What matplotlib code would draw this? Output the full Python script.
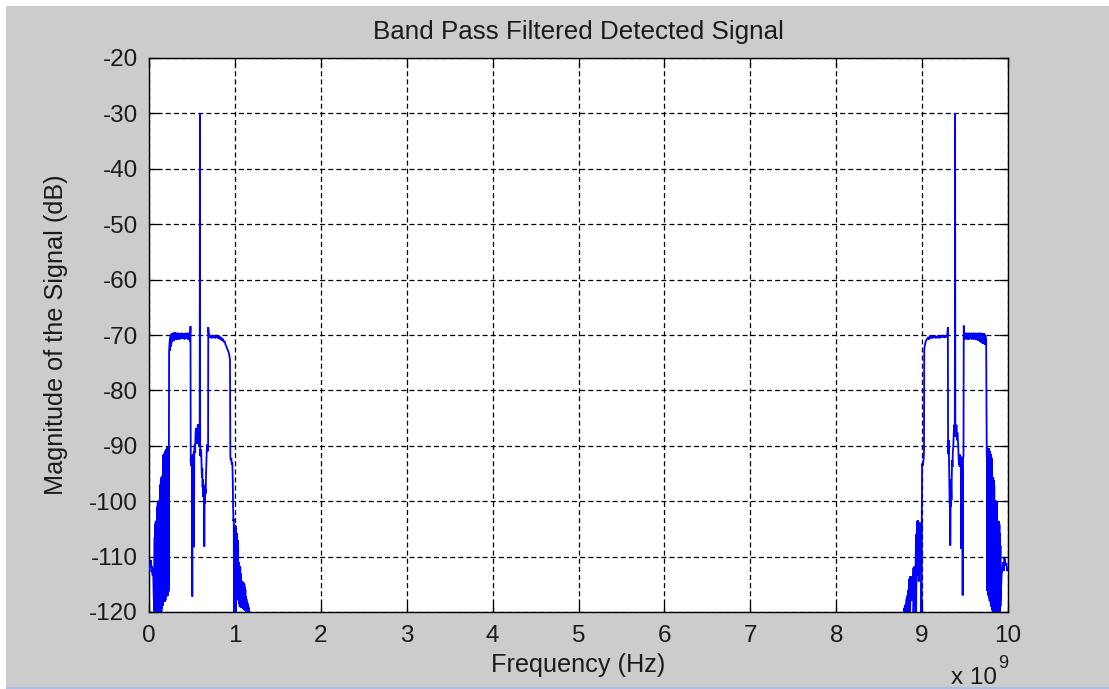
import matplotlib
matplotlib.use("Agg")
import matplotlib.pyplot as plt
from matplotlib.patches import Rectangle

plt.rcParams['font.family'] = ['Liberation Sans', 'DejaVu Sans']

# ---------------- data (frequency in GHz, i.e. units of 1e9 Hz; magnitude in dB) ----------------
title = "Band Pass Filtered Detected Signal"
x_label = "Frequency (Hz)"
y_label = "Magnitude of the Signal (dB)"
x_ticks = [0, 1, 2, 3, 4, 5, 6, 7, 8, 9, 10]
y_ticks = [-120, -110, -100, -90, -80, -70, -60, -50, -40, -30, -20]

# ---- lower band (around 0.6 GHz) ----
lo_edge_f = [0.000, 0.006, 0.012, 0.018, 0.024, 0.030, 0.036, 0.042, 0.048, 0.054, 0.060]
lo_edge_db = [-112.6, -111.4, -111.9, -110.6, -111.0, -112.8, -111.8, -113.4, -112.2, -116.5, -119.8]

lo_noise1_f = [0.066, 0.072, 0.078, 0.084, 0.090, 0.096, 0.102, 0.108, 0.114, 0.120, 0.126, 0.132,
               0.138, 0.144, 0.150, 0.156, 0.162, 0.168, 0.174, 0.180, 0.186, 0.192, 0.198, 0.204,
               0.210, 0.216, 0.222, 0.228]
lo_noise1_hi = [-106.5, -104.2, -103.6, -104.0, -103.4, -101.0, -100.2, -100.6, -99.9, -100.3, -99.6, -97.0,
                -96.2, -95.7, -96.0, -95.4, -92.3, -91.6, -91.9, -91.4, -91.0, -90.9, -90.6, -90.8,
                -90.3, -90.6, -90.5, -90.2]
lo_noise1_lo = [-120.0, -119.6, -120.0, -120.0, -119.2, -120.0, -120.0, -119.7, -120.0, -119.3, -120.0, -120.0,
                -118.8, -120.0, -119.4, -118.3, -118.9, -117.6, -118.2, -117.3, -118.1, -117.9, -116.6, -117.2,
                -116.2, -117.1, -115.6, -116.3]

lo_rise_f = [0.231, 0.234, 0.238]
lo_rise_db = [-90.0, -73.0, -71.8]

lo_ripple_f = [0.244, 0.252, 0.260, 0.268, 0.276, 0.284, 0.292, 0.300, 0.308, 0.316, 0.324, 0.332,
               0.340, 0.348, 0.356, 0.364, 0.372, 0.380, 0.388, 0.396, 0.404, 0.412, 0.420, 0.428,
               0.436, 0.444, 0.452, 0.460, 0.468, 0.476]
lo_ripple_hi = [-70.6, -70.0, -69.8, -69.7, -69.9, -69.6, -69.8, -69.5, -69.7, -69.6, -69.9, -69.7,
                -69.6, -69.8, -69.7, -69.9, -69.8, -69.6, -69.7, -69.8, -69.9, -69.7, -69.8, -69.6,
                -69.7, -69.8, -69.6, -69.7, -69.9, -69.5]
lo_ripple_lo = [-72.8, -72.1, -71.5, -71.2, -71.0, -70.9, -71.1, -70.8, -70.7, -70.9, -70.6, -70.8,
                -70.7, -70.6, -70.8, -70.7, -70.5, -70.6, -70.7, -70.5, -70.6, -70.8, -70.6, -70.7,
                -70.5, -70.6, -70.8, -70.7, -70.9, -71.2]

lo_mid_f = [0.480, 0.483, 0.486, 0.488, 0.492, 0.496, 0.500, 0.504, 0.507, 0.510, 0.514, 0.518, 0.522,
            0.524, 0.527, 0.532, 0.537, 0.542, 0.547, 0.552, 0.557, 0.562, 0.567, 0.572, 0.577, 0.582,
            0.586, 0.590, 0.593, 0.596, 0.600, 0.604, 0.608, 0.612, 0.616, 0.620, 0.624, 0.628, 0.632,
            0.636, 0.640, 0.644, 0.648, 0.652, 0.656, 0.660, 0.664, 0.668, 0.672, 0.676, 0.680, 0.684,
            0.688]
lo_mid_db = [-70.2, -68.4, -93.0, -91.8, -93.6, -92.0, -94.5, -117.2, -92.4, -93.2, -91.5, -92.6, -91.0,
             -108.3, -90.8, -89.8, -91.2, -87.6, -86.8, -88.5, -87.0, -89.6, -86.3, -86.1, -88.0, -90.2,
             -88.8, -89.5, -30.0, -91.8, -90.6, -92.0, -91.2, -93.5, -95.8, -94.0, -97.5, -96.0, -99.2,
             -97.0, -100.6, -108.2, -99.0, -100.4, -97.8, -98.6, -95.2, -93.0, -91.0, -90.2, -89.7, -91.0,
             -90.4]

lo_pass2_f = [0.690, 0.694, 0.700, 0.710, 0.720, 0.730, 0.740, 0.750, 0.760, 0.770, 0.780, 0.790,
              0.800, 0.810, 0.820, 0.830, 0.840, 0.850, 0.860, 0.870, 0.880, 0.890, 0.900, 0.910,
              0.920, 0.930, 0.937, 0.943, 0.947]
lo_pass2_db = [-68.6, -69.6, -70.0, -70.5, -70.1, -70.6, -70.0, -70.5, -70.1, -70.6, -70.0, -70.5,
               -70.2, -70.7, -70.2, -70.8, -70.4, -71.0, -70.7, -71.3, -71.1, -71.7, -72.0, -72.5,
               -72.8, -73.3, -73.8, -74.5, -92.0]

lo_tail_f = [0.952, 0.958, 0.964, 0.970, 0.975, 0.979, 0.983, 0.987, 0.990, 0.993]
lo_tail_db = [-92.6, -92.2, -93.4, -93.0, -96.0, -101.0, -103.6, -103.2, -120.0, -104.5]

lo_noise2_f = [0.996, 1.002, 1.008, 1.014, 1.020, 1.026, 1.032, 1.038, 1.044, 1.050, 1.056, 1.062,
               1.068, 1.074, 1.080, 1.086, 1.092, 1.098, 1.104, 1.110, 1.116, 1.122, 1.128, 1.134,
               1.140, 1.146, 1.152, 1.158, 1.164, 1.170]
lo_noise2_hi = [-104.2, -104.8, -104.4, -105.6, -106.2, -105.8, -107.0, -108.5, -111.0, -111.6, -112.4, -111.8,
                -113.0, -114.2, -114.8, -114.5, -115.0, -114.6, -115.2, -114.9, -115.6, -116.0, -117.2, -117.6,
                -118.0, -118.3, -118.6, -119.0, -119.4, -120.0]
lo_noise2_lo = [-120.0, -119.5, -120.0, -118.0, -117.4, -117.8, -117.2, -117.6, -118.0, -118.6, -119.0, -118.4,
                -119.2, -119.0, -118.6, -119.3, -119.0, -119.5, -119.2, -119.6, -119.8, -119.4, -119.8, -120.0,
                -119.7, -120.0, -120.0, -120.0, -120.0, -120.0]

# ---- upper band (around 9.4 GHz) ----
hi_noise1_f = [8.790, 8.800, 8.810, 8.820, 8.830, 8.840, 8.850, 8.860, 8.870, 8.880,
               8.890, 8.900, 8.910, 8.920, 8.930, 8.940, 8.950, 8.960, 8.970, 8.980]
hi_noise1_hi = [-119.5, -118.8, -118.6, -117.6, -117.0, -116.0, -114.0, -113.6, -113.8, -113.5,
                -113.7, -112.0, -111.8, -112.2, -106.0, -103.6, -103.4, -104.2, -103.8, -104.5]
hi_noise1_lo = [-120.0, -119.8, -120.0, -119.6, -119.2, -120.0, -117.5, -119.9, -116.8, -118.0,
                -117.0, -120.0, -115.0, -116.0, -120.0, -113.5, -112.0, -114.5, -111.8, -113.0]

hi_rise_f = [8.990, 8.992, 8.996, 9.000, 9.006, 9.012, 9.018, 9.022, 9.025, 9.030, 9.036, 9.042,
             9.050, 9.060, 9.070, 9.080, 9.090, 9.100, 9.110, 9.120, 9.130, 9.140, 9.150, 9.160,
             9.170, 9.180, 9.190, 9.200, 9.210, 9.220, 9.230, 9.240, 9.250, 9.260, 9.270, 9.280,
             9.290, 9.295, 9.300]
hi_rise_db = [-104.0, -120.0, -104.0, -93.2, -93.6, -93.0, -92.4, -91.0, -72.8, -72.0, -71.6, -71.2,
              -70.9, -70.7, -70.4, -70.8, -70.2, -70.6, -70.1, -70.6, -70.2, -70.5, -70.1, -70.6,
              -70.2, -70.5, -70.1, -70.6, -70.2, -70.5, -70.1, -70.4, -70.0, -70.5, -70.1, -70.4,
              -70.0, -69.8, -68.6]

hi_mid_f = [9.302, 9.306, 9.310, 9.314, 9.318, 9.322, 9.326, 9.328, 9.331, 9.334, 9.338, 9.342,
            9.346, 9.350, 9.354, 9.358, 9.362, 9.366, 9.370, 9.374, 9.378, 9.381, 9.384, 9.387,
            9.391, 9.395, 9.399, 9.403, 9.407, 9.411, 9.415, 9.420, 9.425, 9.430, 9.434, 9.438,
            9.442, 9.446, 9.452, 9.456, 9.460, 9.464, 9.468, 9.472, 9.476, 9.479, 9.482, 9.485]
hi_mid_db = [-88.4, -91.5, -89.0, -93.6, -97.5, -100.4, -96.0, -108.0, -99.5, -101.0, -97.2, -99.8,
             -95.0, -92.6, -93.8, -91.0, -90.4, -88.6, -87.2, -86.2, -86.6, -86.0, -30.0, -88.4,
             -86.8, -88.0, -86.2, -87.4, -89.0, -87.6, -88.8, -89.6, -92.2, -93.4, -92.0, -93.8,
             -91.6, -92.0, -92.4, -108.6, -93.6, -92.0, -95.0, -117.0, -92.6, -92.0, -91.6, -68.3]

hi_ripple_f = [9.490, 9.498, 9.506, 9.514, 9.522, 9.530, 9.538, 9.546, 9.554, 9.562, 9.570,
               9.578, 9.586, 9.594, 9.602, 9.610, 9.618, 9.626, 9.634, 9.642, 9.650, 9.658,
               9.666, 9.674, 9.682, 9.690, 9.698, 9.706, 9.714, 9.722, 9.730, 9.738, 9.746]
hi_ripple_hi = [-69.8, -69.6, -69.7, -69.9, -69.6, -69.8, -69.7, -69.6, -69.9, -69.7, -69.8,
                -69.6, -69.7, -69.9, -69.6, -69.8, -69.7, -69.6, -69.8, -69.7, -69.9, -69.6,
                -69.7, -69.8, -69.6, -69.9, -69.7, -69.8, -70.0, -69.7, -69.9, -70.2, -70.6]
hi_ripple_lo = [-70.6, -70.8, -70.5, -70.7, -70.6, -70.9, -70.6, -70.8, -70.5, -70.7, -70.6,
                -70.8, -70.7, -70.5, -70.8, -70.6, -70.7, -70.9, -70.6, -70.8, -71.0, -70.7,
                -70.9, -71.2, -70.8, -71.4, -71.0, -71.6, -71.2, -71.5, -71.8, -71.6, -72.0]

hi_noise2_f = [9.753, 9.756, 9.762, 9.768, 9.774, 9.780, 9.786, 9.792, 9.798, 9.804, 9.810, 9.816,
               9.822, 9.828, 9.834, 9.840, 9.846, 9.852, 9.858, 9.864, 9.870, 9.876, 9.882,
               9.888, 9.894, 9.900, 9.906, 9.912]
hi_noise2_hi = [-90.5, -90.3, -90.6, -90.4, -90.8, -90.5, -90.9, -91.2, -91.5, -91.8, -92.2, -95.6,
                -96.0, -95.7, -96.2, -97.2, -99.8, -100.2, -99.9, -100.4, -100.1, -103.5, -103.8,
                -104.0, -103.6, -104.2, -105.8, -108.0]
hi_noise2_lo = [-92.0, -116.2, -115.8, -117.0, -116.4, -117.4, -118.0, -117.2, -118.4, -119.0, -118.2, -119.6,
                -120.0, -119.0, -120.0, -120.0, -119.5, -120.0, -120.0, -119.4, -120.0, -120.0, -119.8,
                -120.0, -119.3, -120.0, -120.0, -119.0]

hi_edge_f = [9.918, 9.926, 9.934, 9.942, 9.950, 9.958, 9.966, 9.974, 9.982, 9.990, 9.998]
hi_edge_db = [-116.0, -113.2, -112.4, -111.0, -112.6, -110.2, -110.8, -111.6, -111.2, -112.6, -112.2]


def zigzag(freqs, tops, bottoms):
    xs, ys = [], []
    for f, t, b in zip(freqs, tops, bottoms):
        xs += [f, f]
        ys += [t, b]
    return xs, ys


def build(pieces):
    xs, ys = [], []
    for p in pieces:
        if len(p) == 3:
            a, b = zigzag(*p)
        else:
            a, b = p
        xs += list(a)
        ys += list(b)
    return xs, ys


low_x, low_y = build([
    (lo_edge_f, lo_edge_db),
    (lo_noise1_f, lo_noise1_hi, lo_noise1_lo),
    (lo_rise_f, lo_rise_db),
    (lo_ripple_f, lo_ripple_hi, lo_ripple_lo),
    (lo_mid_f, lo_mid_db),
    (lo_pass2_f, lo_pass2_db),
    (lo_tail_f, lo_tail_db),
    (lo_noise2_f, lo_noise2_hi, lo_noise2_lo),
])

high_x, high_y = build([
    (hi_noise1_f, hi_noise1_hi, hi_noise1_lo),
    (hi_rise_f, hi_rise_db),
    (hi_mid_f, hi_mid_db),
    (hi_ripple_f, hi_ripple_hi, hi_ripple_lo),
    (hi_noise2_f, hi_noise2_hi, hi_noise2_lo),
    (hi_edge_f, hi_edge_db),
])

# ---------------- figure ----------------
W, H = 1109, 689
fig = plt.figure(figsize=(W / 100, H / 100), dpi=100, facecolor='#cccccc')

# screenshot borders
fig.patches.append(Rectangle((0, 1 - 6 / H), 1, 6 / H, transform=fig.transFigure,
                             facecolor='white', edgecolor='none', zorder=-5))
fig.patches.append(Rectangle((0, 0), 6 / W, 1, transform=fig.transFigure,
                             facecolor='white', edgecolor='none', zorder=-5))
fig.patches.append(Rectangle((6 / W, 0), 1, 1.6 / H, transform=fig.transFigure,
                             facecolor='#a9bfe6', edgecolor='none', zorder=-5))

ax_l, ax_r, ax_t, ax_b = 149, 1008, 58, 612
ax = fig.add_axes([ax_l / W, 1 - ax_b / H, (ax_r - ax_l) / W, (ax_b - ax_t) / H])
ax.set_facecolor('white')

ax.plot(low_x, low_y, color='#0000ff', lw=1.3, solid_joinstyle='miter', zorder=3)
ax.plot(high_x, high_y, color='#0000ff', lw=1.3, solid_joinstyle='miter', zorder=3)

ax.set_xlim(0, 10)
ax.set_ylim(-120, -20)
ax.set_xticks(x_ticks)
ax.set_yticks(y_ticks)
ax.set_xticklabels([str(t) for t in x_ticks])
ax.set_yticklabels([str(t) for t in y_ticks])

text_color = '#1a1a1a'
fs = 17.5
ax.tick_params(direction='in', length=6.5, width=0.9, top=True, right=True,
               labelsize=fs, colors='black', labelcolor=text_color)
ax.tick_params(axis='x', pad=9)
ax.tick_params(axis='y', pad=8)
for s in ax.spines.values():
    s.set_linewidth(1.0)
    s.set_color('black')

ax.grid(True, color='black', linestyle=(0, (4, 2.5)), linewidth=0.9)
ax.set_axisbelow(False)

ax.set_title(title, fontsize=18.7, pad=14, color=text_color)
ax.set_xlabel(x_label, fontsize=18.2, color=text_color)
ax.set_ylabel(y_label, fontsize=18.2, color=text_color)
ax.xaxis.set_label_coords(0.5, -(653 - ax_b) / (ax_b - ax_t))
ax.yaxis.set_label_coords(-(ax_l - 68) / (ax_r - ax_l), 0.5)

fig.text(997 / W, 4.5 / H, 'x 10', fontsize=fs, ha='right', va='baseline', color=text_color)
fig.text(998 / W, 21 / H, '9', fontsize=13, ha='left', va='baseline', color=text_color)

fig.savefig('out.png', dpi=100, facecolor=fig.get_facecolor())
